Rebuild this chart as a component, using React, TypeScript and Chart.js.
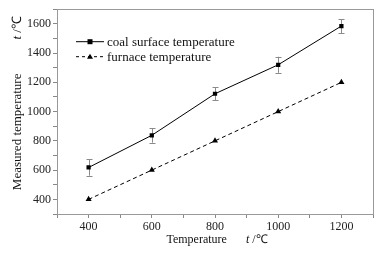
import React, { useEffect, useRef } from "react";
import { Chart, registerables } from "chart.js";
Chart.register(...registerables);

const temperatures = [400, 600, 800, 1000, 1200];
const coalSurface = [618, 838, 1122, 1320, 1585];
const coalError = [56, 50, 45, 55, 48];
const furnace = [400, 600, 800, 1000, 1200];
const seriesNames = ["coal surface temperature", "furnace temperature"];
const xTickLabels = [400, 600, 800, 1000, 1200];
const yTickLabels = [400, 600, 800, 1000, 1200, 1400, 1600];

const SERIF = '"Liberation Serif", "Times New Roman", serif';

const errorBarPlugin = {
  id: "errorBars",
  beforeDatasetsDraw(chart: any) {
    const { ctx, scales } = chart;
    const xs = scales.x;
    const ys = scales.y;
    ctx.save();
    ctx.strokeStyle = "#8a8a8a";
    ctx.lineWidth = 1;
    temperatures.forEach((t, i) => {
      const px = Math.round(xs.getPixelForValue(t)) + 0.5;
      const top = ys.getPixelForValue(coalSurface[i] + coalError[i]);
      const bot = ys.getPixelForValue(coalSurface[i] - coalError[i]);
      ctx.beginPath();
      ctx.moveTo(px, top);
      ctx.lineTo(px, bot);
      ctx.moveTo(px - 3, Math.round(top) + 0.5);
      ctx.lineTo(px + 3, Math.round(top) + 0.5);
      ctx.moveTo(px - 3, Math.round(bot) + 0.5);
      ctx.lineTo(px + 3, Math.round(bot) + 0.5);
      ctx.stroke();
    });
    ctx.restore();
  },
};

const framePlugin = {
  id: "frameAndText",
  afterDraw(chart: any) {
    const { ctx, chartArea } = chart;
    const { left, right, top, bottom } = chartArea;
    ctx.save();
    // frame
    ctx.strokeStyle = "#999";
    ctx.lineWidth = 1;
    ctx.strokeRect(Math.round(left) + 0.5, Math.round(top) + 0.5, Math.round(right - left), Math.round(bottom - top));

    // legend
    const lx0 = left + 19;
    const lx1 = left + 47;
    const rows = [top + 32, top + 47];
    ctx.font = `13px ${SERIF}`;
    ctx.fillStyle = "#111";
    ctx.textBaseline = "middle";
    ctx.textAlign = "left";
    rows.forEach((ry, i) => {
      ctx.strokeStyle = "#000";
      ctx.lineWidth = 1;
      ctx.setLineDash(i === 0 ? [] : [3, 3]);
      ctx.beginPath();
      ctx.moveTo(lx0, ry + 0.5);
      ctx.lineTo(lx1, ry + 0.5);
      ctx.stroke();
      ctx.setLineDash([]);
      const mx = (lx0 + lx1) / 2;
      ctx.fillStyle = "#000";
      if (i === 0) {
        ctx.fillRect(mx - 2.5, ry - 2, 5, 5);
      } else {
        ctx.beginPath();
        ctx.moveTo(mx, ry - 2.5);
        ctx.lineTo(mx + 3, ry + 2.5);
        ctx.lineTo(mx - 3, ry + 2.5);
        ctx.closePath();
        ctx.fill();
      }
      ctx.fillStyle = "#111";
      ctx.fillText(seriesNames[i], lx1 + 3, ry + 1);
    });

    // axis titles with italic t
    const drawTitle = (main: string, size: number, gap: number) => {
      ctx.font = `${size}px ${SERIF}`;
      const w1 = ctx.measureText(main).width;
      ctx.font = `italic ${size}px ${SERIF}`;
      const wt = ctx.measureText("t").width;
      ctx.font = `${size}px ${SERIF}`;
      const w3 = ctx.measureText(" /\u2103").width;
      const W = w1 + gap + wt + w3;
      let x = -W / 2;
      ctx.textAlign = "left";
      ctx.textBaseline = "alphabetic";
      ctx.fillStyle = "#111";
      ctx.font = `${size}px ${SERIF}`;
      ctx.fillText(main, x, 0);
      x += w1 + gap;
      ctx.font = `italic ${size}px ${SERIF}`;
      ctx.fillText("t", x, 0);
      x += wt;
      ctx.font = `${size}px ${SERIF}`;
      ctx.fillText(" /\u2103", x, 0);
    };
    ctx.save();
    ctx.translate((left + right) / 2 + 2, 243);
    drawTitle("Temperature", 12, 19);
    ctx.restore();
    ctx.save();
    ctx.translate(21, (top + bottom) / 2 - 8.5);
    ctx.rotate(-Math.PI / 2);
    drawTitle("Measured temperature", 13, 34);
    ctx.restore();
    ctx.restore();
  },
};

export default function App() {
  const ref = useRef<HTMLCanvasElement | null>(null);
  useEffect(() => {
    document.body.style.margin = "0";
    if (!ref.current) return;
    const chart = new Chart(ref.current, {
      type: "line",
      data: {
        datasets: [
          {
            label: seriesNames[0],
            data: temperatures.map((t, i) => ({ x: t, y: coalSurface[i] })),
            borderColor: "#000",
            backgroundColor: "#000",
            borderWidth: 1,
            pointStyle: "rect",
            pointRadius: 3,
            pointBorderWidth: 0,
          },
          {
            label: seriesNames[1],
            data: temperatures.map((t, i) => ({ x: t, y: furnace[i] })),
            borderColor: "#000",
            backgroundColor: "#000",
            borderWidth: 1,
            borderDash: [4, 3],
            pointStyle: "triangle",
            pointRadius: 3.5,
            pointBorderWidth: 0,
          },
        ],
      },
      options: {
        animation: false,
        responsive: false,
        maintainAspectRatio: false,
        layout: { padding: { top: 8, right: 10, left: 0, bottom: 0 } },
        plugins: { legend: { display: false }, tooltip: { enabled: false } },
        scales: {
          x: {
            type: "linear",
            min: 300,
            max: 1300,
            afterFit: (s: any) => { s.height = 40; },
            ticks: {
              stepSize: 100,
              autoSkip: false,
              maxRotation: 0,
              padding: 2,
              color: "#222",
              font: { family: SERIF, size: 12 },
              callback: (v: any) => (xTickLabels.includes(v) ? String(v) : ""),
            },
            grid: { drawOnChartArea: false, tickLength: 4, color: "#888", tickColor: "#888" },
            border: { display: true, color: "#999" },
          },
          y: {
            type: "linear",
            min: 300,
            max: 1700,
            afterFit: (s: any) => { s.width = 57; },
            ticks: {
              stepSize: 100,
              autoSkip: false,
              padding: 2,
              color: "#222",
              font: { family: SERIF, size: 12 },
              callback: (v: any) => (yTickLabels.includes(v) ? String(v) : ""),
            },
            grid: { drawOnChartArea: false, tickLength: 4, color: "#888", tickColor: "#888" },
            border: { display: true, color: "#999" },
          },
        },
      },
      plugins: [errorBarPlugin, framePlugin],
    } as any);
    return () => chart.destroy();
  }, []);
  return (
    <div style={{ width: 383, height: 254 }}>
      <canvas ref={ref} width={383} height={254} style={{ display: "block" }} />
    </div>
  );
}
